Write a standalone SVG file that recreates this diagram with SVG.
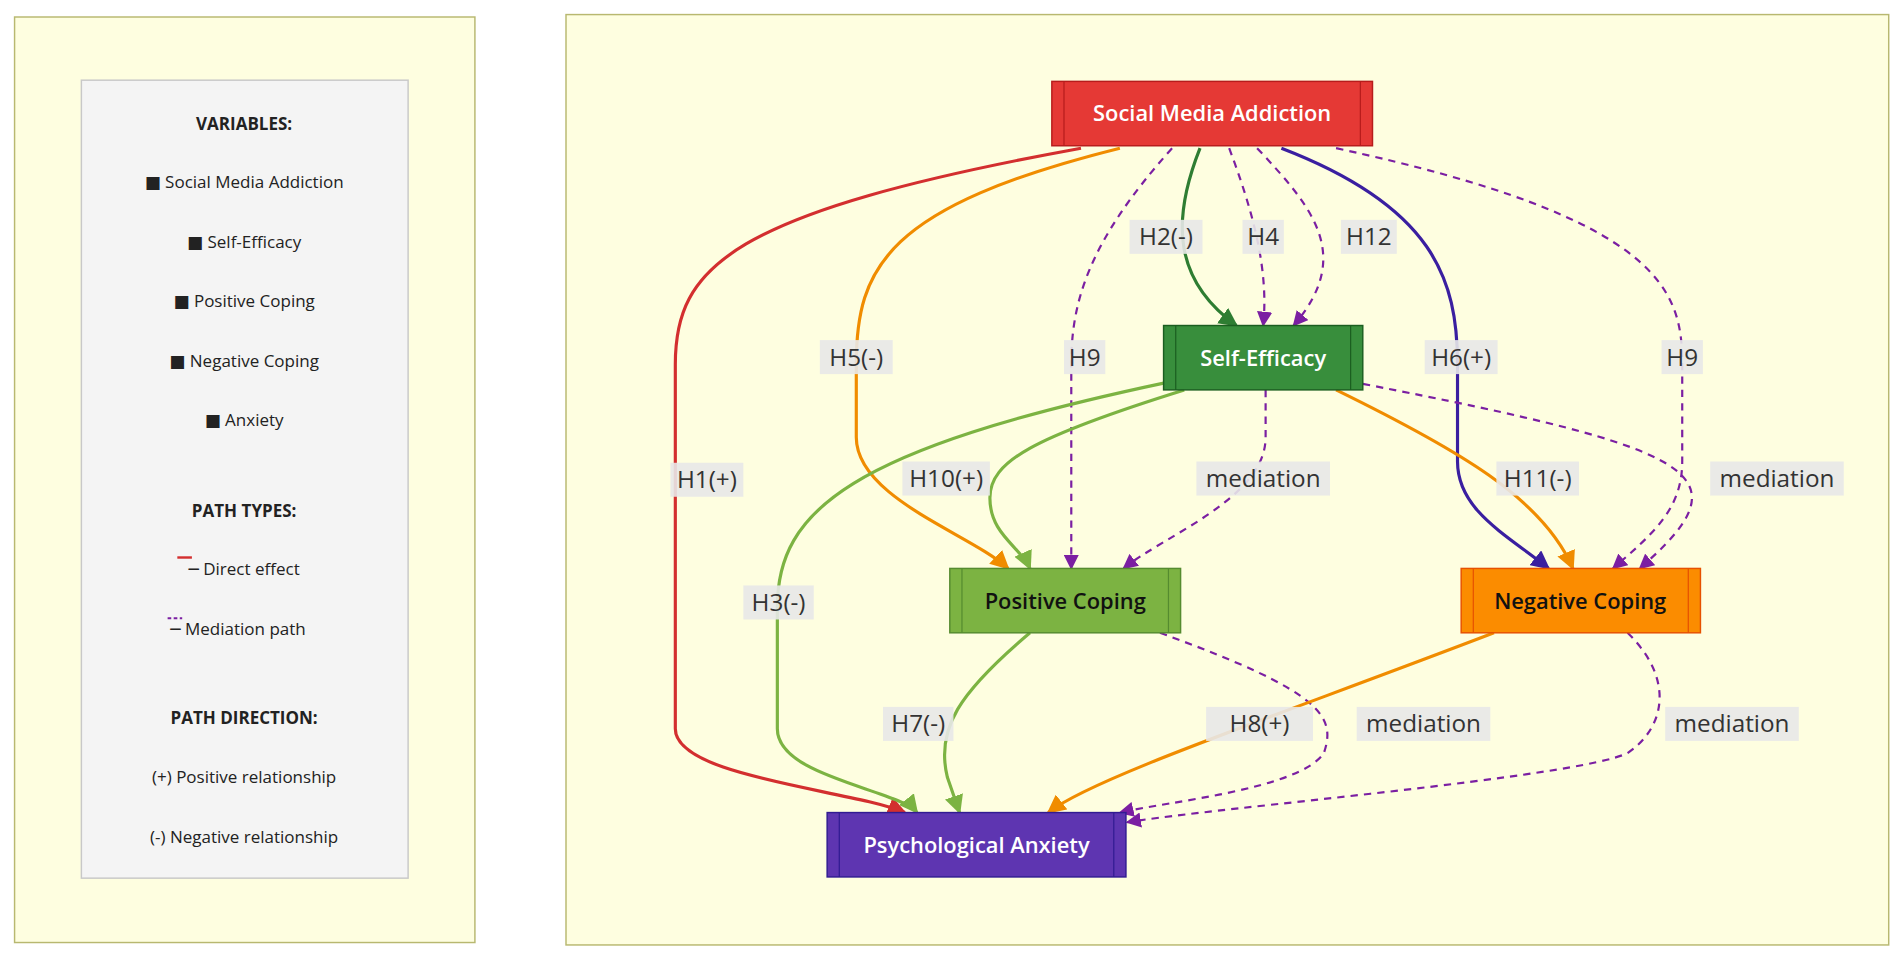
<svg xmlns="http://www.w3.org/2000/svg" width="1902" height="959" viewBox="0 0 1902 959">
<defs>
<style>
.t{font-family:"Open Sans","DejaVu Sans",sans-serif}
.lg{font-size:14px;fill:#222;text-anchor:middle}
.lgb{font-size:14px;fill:#222;text-anchor:middle;font-weight:bold}
.nt{font-size:18px;text-anchor:middle;font-weight:600}
.lb{font-size:20px;fill:#333;text-anchor:middle}
.lbr{fill:#e8e8e8;opacity:0.9}
.e{fill:none;stroke-width:2.6}
.d{stroke-dasharray:6 5;stroke:#7b1fa2;stroke-width:1.8}
</style>
<marker id="ar" viewBox="0 0 10 10" refX="9" refY="5" markerWidth="6" markerHeight="6" orient="auto"><path d="M0,0L10,5L0,10z" fill="#d32f2f"/></marker>
<marker id="ao" viewBox="0 0 10 10" refX="9" refY="5" markerWidth="6" markerHeight="6" orient="auto"><path d="M0,0L10,5L0,10z" fill="#f08c00"/></marker>
<marker id="ap" viewBox="0 0 10 10" refX="9" refY="5" markerWidth="7" markerHeight="7" orient="auto"><path d="M0,0L10,5L0,10z" fill="#7b1fa2"/></marker>
<marker id="ag" viewBox="0 0 10 10" refX="9" refY="5" markerWidth="6" markerHeight="6" orient="auto"><path d="M0,0L10,5L0,10z" fill="#2e7d32"/></marker>
<marker id="al" viewBox="0 0 10 10" refX="9" refY="5" markerWidth="6" markerHeight="6" orient="auto"><path d="M0,0L10,5L0,10z" fill="#7cb342"/></marker>
<marker id="ab" viewBox="0 0 10 10" refX="9" refY="5" markerWidth="6" markerHeight="6" orient="auto"><path d="M0,0L10,5L0,10z" fill="#3a1fa0"/></marker>
</defs>
<rect width="1902" height="959" fill="#ffffff"/>
<g transform="scale(1.2146)" class="t">
<g id="legend">
<rect x="12" y="14" width="379" height="762" fill="#fefee0" stroke="#b8b870" stroke-width="1.2"/>
<rect x="67" y="66" width="269" height="657" fill="#f4f4f4" stroke="#c8c8c8" stroke-width="1.2"/>
<text class="lgb" x="201" y="107">VARIABLES:</text>
<text class="lg" x="201" y="155">■ Social Media Addiction</text>
<text class="lg" x="201" y="204">■ Self-Efficacy</text>
<text class="lg" x="201" y="253">■ Positive Coping</text>
<text class="lg" x="201" y="302">■ Negative Coping</text>
<text class="lg" x="201" y="351">■ Anxiety</text>
<text class="lgb" x="201" y="426">PATH TYPES:</text>
<line x1="146" y1="459" x2="158" y2="459" stroke="#d32f2f" stroke-width="2"/>
<text class="lg" x="201" y="473">─ Direct effect</text>
<line x1="138" y1="509" x2="150" y2="509" stroke="#7b1fa2" stroke-width="1.5" stroke-dasharray="3 2"/>
<text class="lg" x="196" y="523">─ Mediation path</text>
<text class="lgb" x="201" y="596">PATH DIRECTION:</text>
<text class="lg" x="201" y="645">(+) Positive relationship</text>
<text class="lg" x="201" y="694">(-) Negative relationship</text>
</g>
<rect x="466" y="12" width="1089" height="766" fill="#fefee0" stroke="#b8b870" stroke-width="1.2"/>
<g id="connectors">
<path class="e" stroke="#d32f2f" marker-end="url(#ar)" d="M890,122 C600,175 556,220 556,300 L556,600 C556,640 700,650 745,669"/>
<path class="e" stroke="#f08c00" marker-end="url(#ao)" d="M922,122 C730,170 705,220 705,300 L705,360 C705,410 800,440 830,468"/>
<path class="e d" marker-end="url(#ap)" d="M965,122 C895,200 882,250 882,300 L882,468"/>
<path class="e" stroke="#2e7d32" marker-end="url(#ag)" d="M988,122 C965,180 965,230 1018,268"/>
<path class="e d" marker-end="url(#ap)" d="M1012,122 C1030,170 1045,220 1040,268"/>
<path class="e d" marker-end="url(#ap)" d="M1035,122 C1080,170 1115,210 1065,268"/>
<path class="e" stroke="#3a1fa0" marker-end="url(#ab)" d="M1055,122 C1180,170 1200,230 1200,300 L1200,380 C1200,420 1240,440 1275,468"/>
<path class="e d" marker-end="url(#ap)" d="M1100,122 C1370,180 1385,240 1385,300 L1385,380 C1385,420 1360,440 1328,468"/>
<path class="e" stroke="#7cb342" marker-end="url(#al)" d="M960,315 C700,370 640,420 640,500 L640,600 C640,640 740,650 755,669"/>
<path class="e" stroke="#7cb342" marker-end="url(#al)" d="M975,321 C850,360 815,380 815,410 C815,440 840,450 848,468"/>
<path class="e d" marker-end="url(#ap)" d="M1042,321 L1042,360 C1042,410 960,440 925,468"/>
<path class="e" stroke="#f08c00" marker-end="url(#ao)" d="M1100,321 C1200,370 1270,410 1295,468"/>
<path class="e d" marker-end="url(#ap)" d="M1122,316 C1400,370 1440,390 1350,468"/>
<path class="e" stroke="#7cb342" marker-end="url(#al)" d="M848,521 C790,570 770,600 780,640 L790,669"/>
<path class="e d" marker-end="url(#ap)" d="M955,521 C1090,570 1100,590 1090,620 C1070,650 960,660 922,669"/>
<path class="e" stroke="#f08c00" marker-end="url(#ao)" d="M1230,521 C1050,590 900,640 863,669"/>
<path class="e d" marker-end="url(#ap)" d="M1340,521 C1380,560 1370,600 1340,620 C1300,640 1000,665 928,677"/>
</g>
<g id="labels">
<rect class="lbr" x="552" y="381" width="60" height="28"/><text class="lb" x="582" y="402">H1(+)</text>
<rect class="lbr" x="675" y="280" width="60" height="28"/><text class="lb" x="705" y="301">H5(-)</text>
<rect class="lbr" x="876" y="280" width="34" height="28"/><text class="lb" x="893" y="301">H9</text>
<rect class="lbr" x="930" y="181" width="60" height="28"/><text class="lb" x="960" y="202">H2(-)</text>
<rect class="lbr" x="1023" y="181" width="34" height="28"/><text class="lb" x="1040" y="202">H4</text>
<rect class="lbr" x="1104" y="181" width="46" height="28"/><text class="lb" x="1127" y="202">H12</text>
<rect class="lbr" x="1173" y="280" width="60" height="28"/><text class="lb" x="1203" y="301">H6(+)</text>
<rect class="lbr" x="1368" y="280" width="34" height="28"/><text class="lb" x="1385" y="301">H9</text>
<rect class="lbr" x="612" y="482" width="58" height="28"/><text class="lb" x="641" y="503">H3(-)</text>
<rect class="lbr" x="743" y="380" width="72" height="28"/><text class="lb" x="779" y="401">H10(+)</text>
<rect class="lbr" x="985" y="380" width="110" height="28"/><text class="lb" x="1040" y="401">mediation</text>
<rect class="lbr" x="1232" y="380" width="68" height="28"/><text class="lb" x="1266" y="401">H11(-)</text>
<rect class="lbr" x="1408" y="380" width="110" height="28"/><text class="lb" x="1463" y="401">mediation</text>
<rect class="lbr" x="727" y="582" width="58" height="28"/><text class="lb" x="756" y="603">H7(-)</text>
<rect class="lbr" x="1117" y="582" width="110" height="28"/><text class="lb" x="1172" y="603">mediation</text>
<rect class="lbr" x="993" y="582" width="88" height="28"/><text class="lb" x="1037" y="603">H8(+)</text>
<rect class="lbr" x="1371" y="582" width="110" height="28"/><text class="lb" x="1426" y="603">mediation</text>
</g>
<g id="n-sma">
<rect x="866" y="67" width="264" height="53" fill="#e53935" stroke="#b71c1c" stroke-width="1.2"/>
<line x1="876" y1="67" x2="876" y2="120" stroke="#b71c1c"/><line x1="1120" y1="67" x2="1120" y2="120" stroke="#b71c1c"/>
<text class="nt" x="998" y="100" fill="#fff">Social Media Addiction</text>
</g>
<g id="n-se">
<rect x="958" y="268" width="164" height="53" fill="#388e3c" stroke="#1b5e20" stroke-width="1.2"/>
<line x1="968" y1="268" x2="968" y2="321" stroke="#1b5e20"/><line x1="1112" y1="268" x2="1112" y2="321" stroke="#1b5e20"/>
<text class="nt" x="1040" y="301" fill="#fff">Self-Efficacy</text>
</g>
<g id="n-pc">
<rect x="782" y="468" width="190" height="53" fill="#7cb342" stroke="#558b2f" stroke-width="1.2"/>
<line x1="792" y1="468" x2="792" y2="521" stroke="#558b2f"/><line x1="962" y1="468" x2="962" y2="521" stroke="#558b2f"/>
<text class="nt" x="877" y="501" fill="#111">Positive Coping</text>
</g>
<g id="n-nc">
<rect x="1203" y="468" width="197" height="53" fill="#fb8c00" stroke="#e65100" stroke-width="1.2"/>
<line x1="1213" y1="468" x2="1213" y2="521" stroke="#e65100"/><line x1="1390" y1="468" x2="1390" y2="521" stroke="#e65100"/>
<text class="nt" x="1301" y="501" fill="#111">Negative Coping</text>
</g>
<g id="n-pa">
<rect x="681" y="669" width="246" height="53" fill="#5e35b1" stroke="#311b92" stroke-width="1.2"/>
<line x1="691" y1="669" x2="691" y2="722" stroke="#311b92"/><line x1="917" y1="669" x2="917" y2="722" stroke="#311b92"/>
<text class="nt" x="804" y="702" fill="#fff">Psychological Anxiety</text>
</g>
</g>
</svg>
